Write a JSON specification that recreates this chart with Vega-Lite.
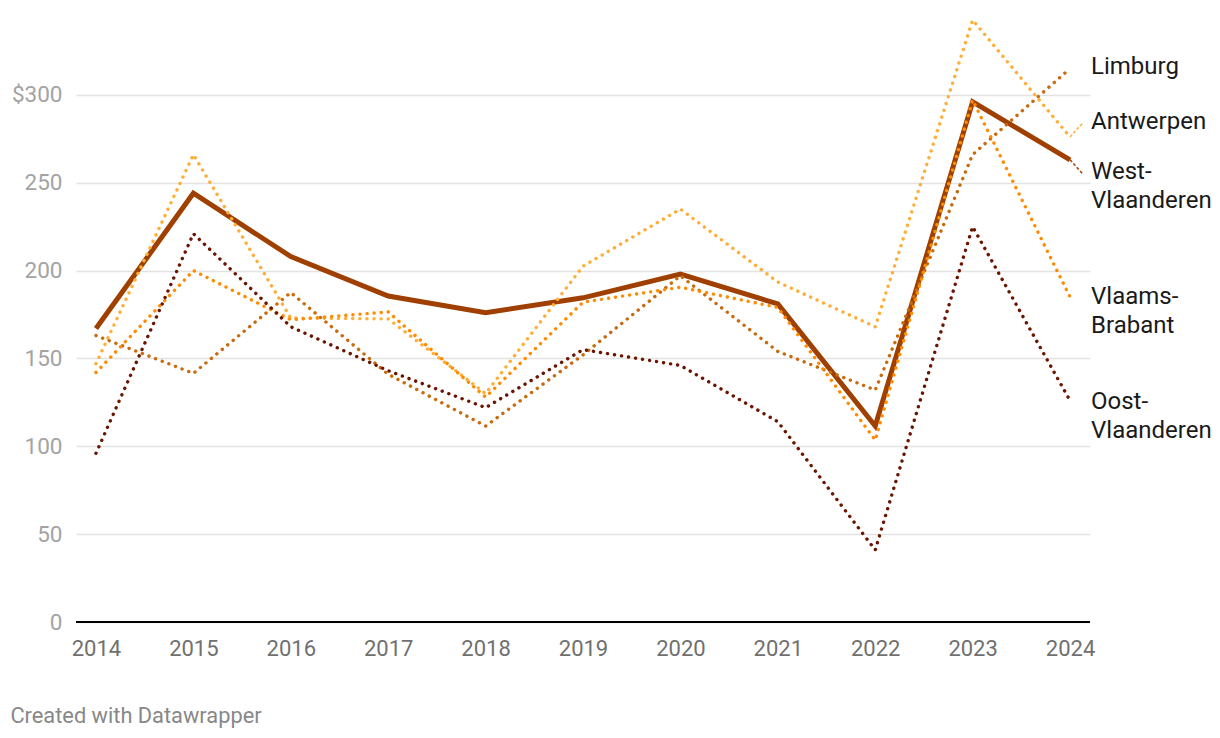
{
  "$schema": "https://vega.github.io/schema/vega-lite/v6.json",
  "width": 1014,
  "height": 615,
  "autosize": {"type": "none"},
  "padding": {"left": 76, "top": 7, "right": 130, "bottom": 116},
  "background": "white",
  "config": {
    "font": "Roboto",
    "view": {"stroke": null},
    "title": {"font": "Roboto"}
  },
  "title": {
    "text": "Created with Datawrapper",
    "orient": "bottom",
    "anchor": "start",
    "frame": "bounds",
    "dx": -1,
    "offset": 47,
    "fontSize": 21.8,
    "fontWeight": "normal",
    "color": "#888888"
  },
  "datasets": {
    "seriesRows": [
      {"region": "West-Vlaanderen", "year": 2014, "value": 167},
      {"region": "West-Vlaanderen", "year": 2015, "value": 244},
      {"region": "West-Vlaanderen", "year": 2016, "value": 208},
      {"region": "West-Vlaanderen", "year": 2017, "value": 185.5},
      {"region": "West-Vlaanderen", "year": 2018, "value": 176},
      {"region": "West-Vlaanderen", "year": 2019, "value": 184.5},
      {"region": "West-Vlaanderen", "year": 2020, "value": 198},
      {"region": "West-Vlaanderen", "year": 2021, "value": 181},
      {"region": "West-Vlaanderen", "year": 2022, "value": 111.5},
      {"region": "West-Vlaanderen", "year": 2023, "value": 296},
      {"region": "West-Vlaanderen", "year": 2024, "value": 263},
      {"region": "Antwerpen", "year": 2014, "value": 147},
      {"region": "Antwerpen", "year": 2015, "value": 266},
      {"region": "Antwerpen", "year": 2016, "value": 173},
      {"region": "Antwerpen", "year": 2017, "value": 172.5},
      {"region": "Antwerpen", "year": 2018, "value": 130},
      {"region": "Antwerpen", "year": 2019, "value": 202.5},
      {"region": "Antwerpen", "year": 2020, "value": 235},
      {"region": "Antwerpen", "year": 2021, "value": 193.5},
      {"region": "Antwerpen", "year": 2022, "value": 168},
      {"region": "Antwerpen", "year": 2023, "value": 342.6},
      {"region": "Antwerpen", "year": 2024, "value": 276},
      {"region": "Limburg", "year": 2014, "value": 163},
      {"region": "Limburg", "year": 2015, "value": 141.5},
      {"region": "Limburg", "year": 2016, "value": 187.5},
      {"region": "Limburg", "year": 2017, "value": 141},
      {"region": "Limburg", "year": 2018, "value": 111.5},
      {"region": "Limburg", "year": 2019, "value": 152},
      {"region": "Limburg", "year": 2020, "value": 197},
      {"region": "Limburg", "year": 2021, "value": 154},
      {"region": "Limburg", "year": 2022, "value": 132},
      {"region": "Limburg", "year": 2023, "value": 266},
      {"region": "Limburg", "year": 2024, "value": 315},
      {"region": "Vlaams-Brabant", "year": 2014, "value": 142},
      {"region": "Vlaams-Brabant", "year": 2015, "value": 200},
      {"region": "Vlaams-Brabant", "year": 2016, "value": 172},
      {"region": "Vlaams-Brabant", "year": 2017, "value": 176.5},
      {"region": "Vlaams-Brabant", "year": 2018, "value": 128},
      {"region": "Vlaams-Brabant", "year": 2019, "value": 182},
      {"region": "Vlaams-Brabant", "year": 2020, "value": 190.5},
      {"region": "Vlaams-Brabant", "year": 2021, "value": 179},
      {"region": "Vlaams-Brabant", "year": 2022, "value": 103.5},
      {"region": "Vlaams-Brabant", "year": 2023, "value": 297},
      {"region": "Vlaams-Brabant", "year": 2024, "value": 185},
      {"region": "Oost-Vlaanderen", "year": 2014, "value": 96},
      {"region": "Oost-Vlaanderen", "year": 2015, "value": 221},
      {"region": "Oost-Vlaanderen", "year": 2016, "value": 168},
      {"region": "Oost-Vlaanderen", "year": 2017, "value": 143},
      {"region": "Oost-Vlaanderen", "year": 2018, "value": 122},
      {"region": "Oost-Vlaanderen", "year": 2019, "value": 155},
      {"region": "Oost-Vlaanderen", "year": 2020, "value": 146},
      {"region": "Oost-Vlaanderen", "year": 2021, "value": 114},
      {"region": "Oost-Vlaanderen", "year": 2022, "value": 41},
      {"region": "Oost-Vlaanderen", "year": 2023, "value": 225},
      {"region": "Oost-Vlaanderen", "year": 2024, "value": 126}
    ],
    "labelRows": [
      {"region": "Limburg", "label": "Limburg", "labelYear": 2024, "labelValue": 316},
      {"region": "Antwerpen", "label": "Antwerpen", "labelYear": 2024, "labelValue": 284.6},
      {"region": "West-Vlaanderen", "label": "West-\nVlaanderen", "labelYear": 2024, "labelValue": 255.9},
      {"region": "Vlaams-Brabant", "label": "Vlaams-\nBrabant", "labelYear": 2024, "labelValue": 185},
      {"region": "Oost-Vlaanderen", "label": "Oost-\nVlaanderen", "labelYear": 2024, "labelValue": 125.2}
    ],
    "connectorRows": [
      {"region": "Antwerpen", "fromYear": 2024, "toYear": 2024.13, "fromValue": 276, "toValue": 284},
      {"region": "West-Vlaanderen", "fromYear": 2024, "toYear": 2024.13, "fromValue": 263, "toValue": 255}
    ]
  },
  "layer": [
    {
      "data": {"name": "seriesRows"},
      "transform": [{"filter": "datum.region == 'West-Vlaanderen'"}],
      "mark": {"type": "line", "strokeWidth": 5, "strokeJoin": "miter", "strokeCap": "butt"},
      "encoding": {
        "x": {
          "field": "year",
          "type": "quantitative",
          "scale": {"domain": [2013.795, 2024.205], "nice": false, "zero": false},
          "axis": {
            "values": [2014, 2015, 2016, 2017, 2018, 2019, 2020, 2021, 2022, 2023, 2024],
            "format": "d",
            "title": null,
            "grid": false,
            "ticks": false,
            "domain": false,
            "labelFontSize": 22,
            "labelColor": "#707070",
            "labelPadding": 16,
            "labelFont": "Roboto"
          }
        },
        "y": {
          "field": "value",
          "type": "quantitative",
          "scale": {"domain": [0, 350], "nice": false},
          "axis": {
            "values": [0, 50, 100, 150, 200, 250, 300],
            "labelExpr": "datum.value == 300 ? '$300' : datum.label",
            "title": null,
            "ticks": false,
            "domain": false,
            "grid": true,
            "gridColor": "#e3e3e3",
            "gridWidth": 1.5,
            "labelFontSize": 22.5,
            "labelColor": "#a3a3a3",
            "labelPadding": 14,
            "labelFont": "Roboto"
          }
        },
        "color": {
          "field": "region",
          "type": "nominal",
          "legend": null,
          "scale": {
            "domain": ["West-Vlaanderen", "Antwerpen", "Limburg", "Vlaams-Brabant", "Oost-Vlaanderen"],
            "range": ["#a04000", "#ffae38", "#c96a0d", "#ff8c00", "#6b1500"]
          }
        }
      }
    },
    {
      "data": {"name": "seriesRows"},
      "transform": [{"filter": "datum.region != 'West-Vlaanderen'"}],
      "mark": {"type": "line", "strokeWidth": 3.4, "strokeDash": [0.1, 7], "strokeCap": "round"},
      "encoding": {
        "x": {"field": "year", "type": "quantitative"},
        "y": {"field": "value", "type": "quantitative"},
        "color": {"field": "region", "type": "nominal", "legend": null}
      }
    },
    {
      "data": {"name": "connectorRows"},
      "mark": {"type": "rule", "strokeWidth": 1.5, "strokeDash": [3, 2]},
      "encoding": {
        "x": {"field": "fromYear", "type": "quantitative"},
        "x2": {"field": "toYear"},
        "y": {"field": "fromValue", "type": "quantitative"},
        "y2": {"field": "toValue"},
        "color": {"field": "region", "type": "nominal", "legend": null}
      }
    },
    {
      "data": {"name": "labelRows"},
      "mark": {
        "type": "text",
        "align": "left",
        "baseline": "middle",
        "lineBreak": "\n",
        "lineHeight": 29,
        "fontSize": 24,
        "font": "Roboto",
        "fill": "#1a1a1a",
        "dx": 21
      },
      "encoding": {
        "x": {"field": "labelYear", "type": "quantitative"},
        "y": {"field": "labelValue", "type": "quantitative"},
        "text": {"field": "label", "type": "nominal"}
      }
    },
    {
      "data": {"values": [{"value": 0}]},
      "mark": {"type": "rule", "color": "#000000", "strokeWidth": 2},
      "encoding": {
        "y": {"field": "value", "type": "quantitative"}
      }
    }
  ]
}
